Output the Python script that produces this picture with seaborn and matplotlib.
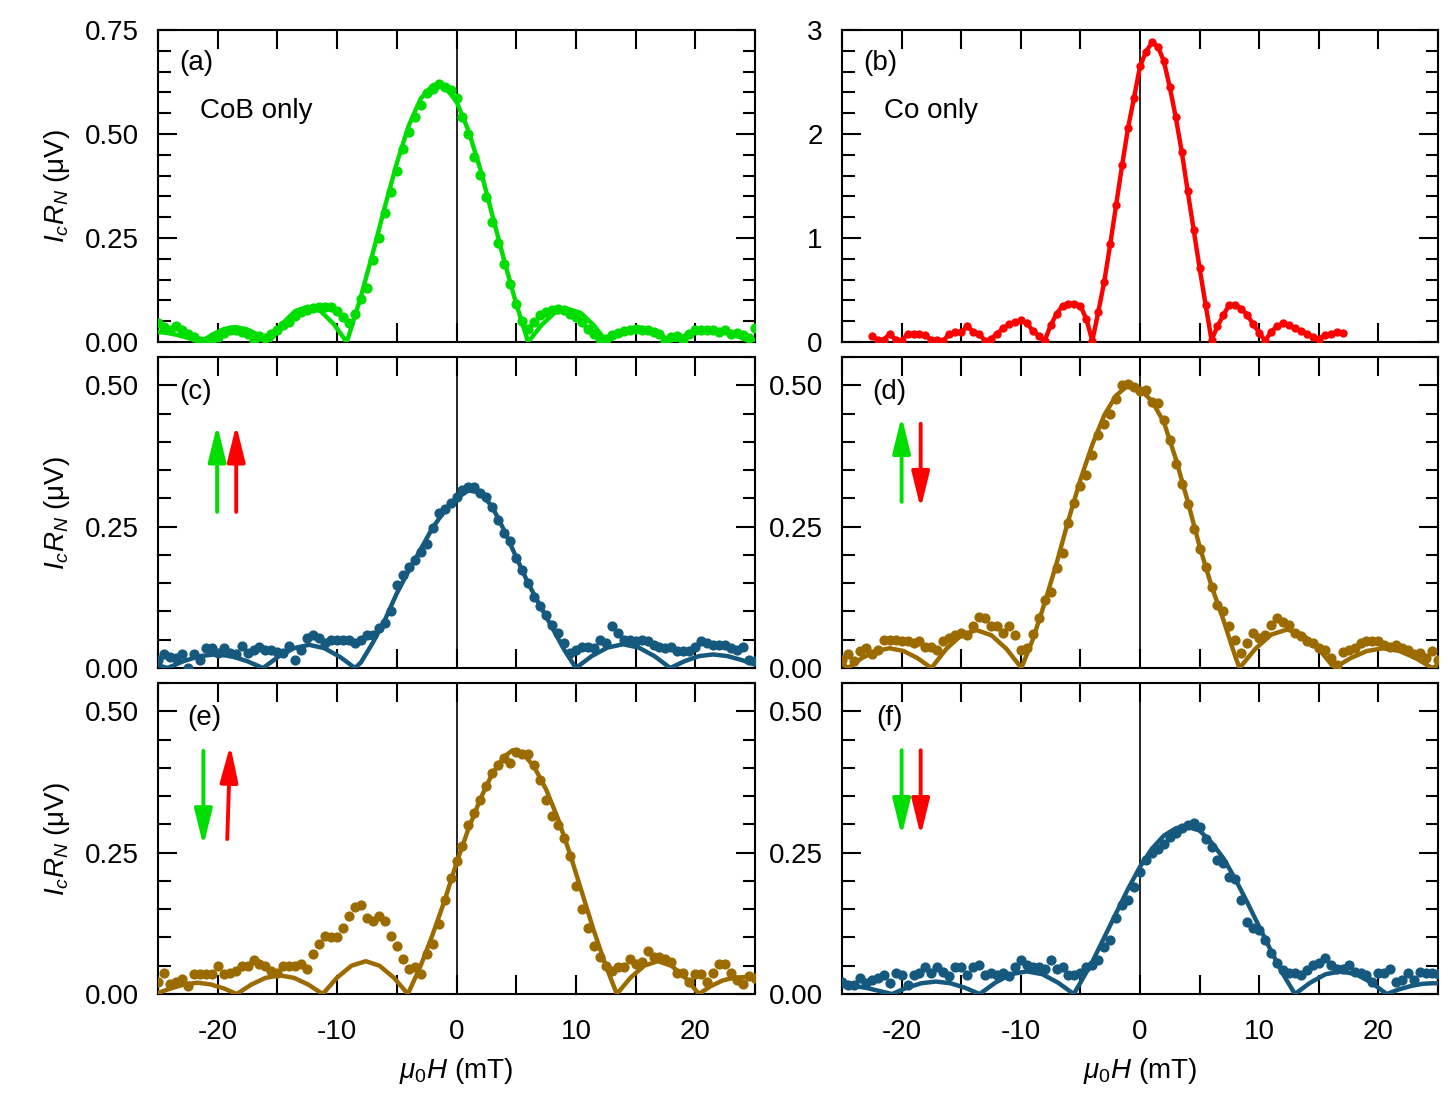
import numpy as np
import matplotlib.pyplot as plt
import seaborn as sns
from matplotlib.ticker import MultipleLocator, FuncFormatter

sns.set_theme(style='ticks')
plt.rcParams['font.family'] = ['Liberation Sans', 'DejaVu Sans']
plt.rcParams['mathtext.fontset'] = 'custom'
plt.rcParams['mathtext.rm'] = 'Liberation Sans'
plt.rcParams['mathtext.it'] = 'Liberation Sans:italic'
plt.rcParams['axes.unicode_minus'] = False
for key in ['text.color', 'axes.labelcolor', 'xtick.color', 'ytick.color', 'axes.edgecolor']:
    plt.rcParams[key] = 'black'

GREEN = '#00dd00'
RED = '#ff0000'
BLUE = '#15597f'
BROWN = '#9c6b00'

# field sweep (mT), 0.5 mT steps
field = np.arange(-25, 25.01, 0.5)
field_b = np.arange(-22.5, 17.01, 0.5)

# (a) CoB only, measured
cob_dots = [0.045, 0.035, 0.030, 0.038, 0.030, 0.020, 0.012, 0.002, 0.003, 0.008,
            0.012, 0.022, 0.030, 0.028, 0.025, 0.020, 0.004, 0.014, 0.010, 0.020,
            0.030, 0.042, 0.048, 0.062, 0.072, 0.078, 0.082, 0.085, 0.085, 0.084,
            0.075, 0.060, 0.045, 0.068, 0.104, 0.130, 0.197, 0.250, 0.309, 0.360,
            0.410, 0.465, 0.505, 0.541, 0.570, 0.598, 0.607, 0.620, 0.612, 0.606,
            0.586, 0.541, 0.501, 0.445, 0.401, 0.349, 0.289, 0.237, 0.188, 0.140,
            0.092, 0.050, 0.032, 0.048, 0.064, 0.072, 0.076, 0.080, 0.076, 0.068,
            0.060, 0.048, 0.032, 0.020, 0.008, 0.008, 0.018, 0.022, 0.026, 0.030,
            0.032, 0.030, 0.028, 0.024, 0.020, 0.002, 0.012, 0.015, 0.004, 0.020,
            0.028, 0.030, 0.028, 0.030, 0.025, 0.030, 0.020, 0.022, 0.018, 0.010,
            0.033]
# (a) fit
cob_fit_x = [-25, -24, -23, -22, -21.4, -20.45, -19.5, -18.55, -17.6, -16.65, -15.7,
             -14.62, -13.53, -12.45, -11.37, -10.28, -9.2, -9, -8, -7, -6, -5, -4, -3,
             -2, -1.6, -1, 0, 1, 2, 3, 4, 5, 6.0, 7.1, 8.2, 9.3, 10.4, 11.5, 12.6,
             13.5, 14.4, 15.3, 16.2, 17.1, 18.0, 19.1, 20.2, 21.3, 22.4, 23.5, 24.6, 25]
cob_fit_y = [0.024, 0.021, 0.014, 0.006, 0.0, 0.018, 0.031, 0.036, 0.031, 0.018, 0.0,
             0.043, 0.074, 0.085, 0.074, 0.043, 0.0, 0.017, 0.11, 0.215, 0.325, 0.43,
             0.52, 0.585, 0.617, 0.62, 0.614, 0.578, 0.508, 0.415, 0.305, 0.195, 0.092,
             0.0, 0.04, 0.07, 0.08, 0.07, 0.04, 0.0, 0.0175, 0.03, 0.035, 0.03, 0.0175,
             0.0, 0.015, 0.026, 0.03, 0.026, 0.015, 0.0, 0.003]

# (b) Co only
co_dots = [0.06, 0.02, 0.02, 0.08, 0.02, 0.01, 0.08, 0.08, 0.08, 0.065,
           0.02, 0.02, 0.01, 0.08, 0.095, 0.095, 0.15, 0.10, 0.08, 0.01,
           0.03, 0.08, 0.13, 0.17, 0.19, 0.21, 0.18, 0.11, 0.06, 0.01,
           0.16, 0.27, 0.35, 0.37, 0.37, 0.35, 0.22, 0.01, 0.29, 0.58,
           0.94, 1.32, 1.70, 2.06, 2.35, 2.65, 2.79, 2.88, 2.84, 2.70,
           2.45, 2.16, 1.83, 1.45, 1.08, 0.71, 0.36, 0.02, 0.15, 0.26,
           0.36, 0.36, 0.32, 0.26, 0.17, 0.09, 0.01, 0.10, 0.15, 0.18,
           0.16, 0.13, 0.11, 0.08, 0.045, 0.03, 0.065, 0.08, 0.095, 0.09]

# (c) parallel up-up
uu_dots = [0.015, 0.024, 0.020, 0.018, 0.024, 0.000, 0.024, 0.015, 0.035, 0.035,
           0.026, 0.035, 0.026, 0.024, 0.039, 0.026, 0.032, 0.038, 0.032, 0.032,
           0.029, 0.026, 0.039, 0.015, 0.032, 0.053, 0.059, 0.053, 0.044, 0.050,
           0.050, 0.050, 0.050, 0.044, 0.050, 0.059, 0.059, 0.070, 0.080, 0.100,
           0.147, 0.165, 0.179, 0.191, 0.206, 0.220, 0.247, 0.274, 0.282, 0.291,
           0.303, 0.315, 0.320, 0.320, 0.309, 0.303, 0.285, 0.262, 0.238, 0.224,
           0.194, 0.174, 0.150, 0.126, 0.109, 0.094, 0.076, 0.062, 0.044, 0.026,
           0.032, 0.038, 0.038, 0.035, 0.050, 0.045, 0.074, 0.062, 0.050, 0.050,
           0.047, 0.050, 0.047, 0.041, 0.038, 0.035, 0.038, 0.030, 0.030, 0.030,
           0.038, 0.047, 0.044, 0.041, 0.041, 0.041, 0.035, 0.032, 0.038, 0.015,
           0.012]
uu_fit_x = [-25, -24.2, -22.87, -21.53, -20.2, -18.87, -17.53, -16.2, -14.92, -13.63,
            -12.35, -11.07, -9.78, -8.5, -8, -7, -6, -5, -4, -3, -2, -1, 0, 1, 2, 3,
            4, 5, 6, 7, 8, 9, 10.0, 11.32, 12.63, 13.95, 15.27, 16.58, 17.9, 19.1,
            20.3, 21.5, 22.7, 23.9, 25]
uu_fit_y = [0.005, 0.0, 0.012, 0.021, 0.024, 0.021, 0.012, 0.0, 0.02, 0.035, 0.041,
            0.035, 0.02, 0.0, 0.01, 0.045, 0.085, 0.132, 0.172, 0.21, 0.248, 0.278,
            0.300, 0.314, 0.310, 0.285, 0.243, 0.196, 0.150, 0.110, 0.072, 0.033, 0.0,
            0.021, 0.036, 0.042, 0.036, 0.021, 0.0, 0.012, 0.021, 0.024, 0.021, 0.014,
            0.006]

# (d) up-down
ud_dots = [0.015, 0.024, 0.012, 0.030, 0.035, 0.024, 0.032, 0.050, 0.050, 0.050,
           0.047, 0.047, 0.044, 0.047, 0.038, 0.038, 0.032, 0.047, 0.053, 0.059,
           0.062, 0.059, 0.074, 0.091, 0.088, 0.074, 0.074, 0.062, 0.074, 0.059,
           0.032, 0.035, 0.060, 0.088, 0.121, 0.135, 0.176, 0.203, 0.257, 0.291,
           0.321, 0.341, 0.376, 0.412, 0.432, 0.450, 0.476, 0.500, 0.503, 0.497,
           0.490, 0.491, 0.470, 0.468, 0.438, 0.403, 0.360, 0.325, 0.290, 0.245,
           0.210, 0.179, 0.144, 0.112, 0.100, 0.075, 0.050, 0.026, 0.044, 0.062,
           0.053, 0.059, 0.076, 0.088, 0.082, 0.076, 0.062, 0.056, 0.047, 0.044,
           0.035, 0.032, 0.018, 0.006, 0.029, 0.032, 0.035, 0.044, 0.047, 0.047,
           0.047, 0.041, 0.038, 0.041, 0.035, 0.032, 0.024, 0.026, 0.018, 0.030,
           0.015]
ud_fit_x = [-25, -24.5, -23.33, -22.17, -21.0, -19.83, -18.67, -17.5, -16.24, -14.98,
            -13.72, -12.47, -11.21, -9.95, -9, -8, -7, -6, -5, -4, -3, -2, -1, 0, 1,
            2, 3, 4, 5, 6, 7, 7.5, 8.0, 8.35, 9.68, 11.0, 12.33, 13.65, 14.98, 16.3,
            17.67, 19.03, 20.4, 21.77, 23.13, 24.5, 25]
ud_fit_y = [0.008, 0.0, 0.0175, 0.03, 0.035, 0.03, 0.0175, 0.0, 0.034, 0.058, 0.067,
            0.058, 0.034, 0.0, 0.05, 0.115, 0.185, 0.262, 0.333, 0.395, 0.447, 0.482,
            0.50, 0.493, 0.472, 0.435, 0.37, 0.295, 0.215, 0.145, 0.085, 0.052, 0.02,
            0.0, 0.034, 0.059, 0.068, 0.059, 0.034, 0.0, 0.0175, 0.03, 0.035, 0.03,
            0.0175, 0.0, 0.005]

# (e) down-up
du_dots = [0.022, 0.037, 0.018, 0.021, 0.026, 0.015, 0.035, 0.035, 0.035, 0.035,
           0.050, 0.035, 0.038, 0.041, 0.050, 0.050, 0.060, 0.053, 0.050, 0.041,
           0.038, 0.050, 0.050, 0.050, 0.053, 0.044, 0.070, 0.088, 0.103, 0.100,
           0.100, 0.117, 0.138, 0.153, 0.157, 0.135, 0.129, 0.138, 0.129, 0.103,
           0.085, 0.062, 0.044, 0.047, 0.035, 0.070, 0.088, 0.123, 0.167, 0.205,
           0.235, 0.261, 0.299, 0.320, 0.343, 0.367, 0.390, 0.405, 0.417, 0.408,
           0.428, 0.425, 0.425, 0.405, 0.378, 0.343, 0.314, 0.299, 0.276, 0.244,
           0.191, 0.150, 0.117, 0.085, 0.065, 0.050, 0.041, 0.047, 0.047, 0.062,
           0.053, 0.056, 0.076, 0.065, 0.065, 0.062, 0.056, 0.038, 0.038, 0.021,
           0.035, 0.035, 0.021, 0.038, 0.053, 0.053, 0.038, 0.024, 0.018, 0.032,
           0.028]
du_fit_x = [-25, -23.9, -22.8, -21.7, -20.6, -19.5, -18.4, -17.2, -16.0, -14.8, -13.6,
            -12.4, -11.2, -10.0, -8.8, -7.6, -6.45, -5.26, -4.07, -3, -2, -1, 0, 1, 2,
            3, 4, 4.7, 5.5, 6.5, 7.5, 8.5, 9.5, 10.5, 11.5, 12.5, 13.43, 14.58, 15.72,
            16.87, 18.0, 19.15, 20.3, 21.3, 22.3, 23.3, 24.3, 25]
du_fit_y = [0.002, 0.01, 0.017, 0.02, 0.017, 0.01, 0.0, 0.0165, 0.0285, 0.033, 0.0285,
            0.0165, 0.0, 0.029, 0.05, 0.058, 0.05, 0.029, 0.0, 0.05, 0.105, 0.165,
            0.232, 0.292, 0.345, 0.39, 0.42, 0.431, 0.427, 0.402, 0.362, 0.31, 0.248,
            0.18, 0.112, 0.05, 0.0, 0.029, 0.05, 0.058, 0.05, 0.029, 0.0, 0.014, 0.024,
            0.029, 0.03, 0.028]

# (f) down-down
dd_dots = [0.022, 0.016, 0.016, 0.028, 0.019, 0.025, 0.028, 0.034, 0.019, 0.037,
           0.034, 0.016, 0.034, 0.037, 0.048, 0.037, 0.048, 0.039, 0.031, 0.048,
           0.048, 0.034, 0.048, 0.051, 0.034, 0.037, 0.034, 0.037, 0.031, 0.048,
           0.060, 0.051, 0.048, 0.048, 0.045, 0.060, 0.045, 0.048, 0.034, 0.034,
           0.037, 0.048, 0.051, 0.060, 0.084, 0.095, 0.134, 0.157, 0.166, 0.190,
           0.216, 0.237, 0.249, 0.257, 0.266, 0.278, 0.284, 0.293, 0.299, 0.302,
           0.296, 0.275, 0.260, 0.237, 0.231, 0.207, 0.204, 0.166, 0.128, 0.116,
           0.113, 0.095, 0.072, 0.054, 0.042, 0.037, 0.037, 0.034, 0.042, 0.051,
           0.054, 0.063, 0.051, 0.045, 0.045, 0.051, 0.039, 0.037, 0.034, 0.022,
           0.037, 0.037, 0.045, 0.022, 0.025, 0.037, 0.025, 0.039, 0.037, 0.037,
           0.036]
dd_fit_x = [-25, -24, -23, -22, -20.8, -19.58, -18.35, -17.13, -15.9, -14.68, -13.45,
            -12.14, -10.82, -9.5, -8.19, -6.87, -5.56, -5, -4, -3, -2, -1, 0, 1, 2, 3,
            3.8, 5, 6, 7, 8, 9, 10, 11, 12, 13.0, 14.28, 15.57, 16.85, 18.13, 19.42,
            20.7, 21.7, 22.7, 23.7, 24.5, 25]
dd_fit_y = [0.014, 0.014, 0.011, 0.006, 0.0, 0.011, 0.019, 0.022, 0.019, 0.011, 0.0,
            0.02, 0.035, 0.04, 0.035, 0.02, 0.0, 0.02, 0.057, 0.10, 0.143, 0.186, 0.225,
            0.257, 0.28, 0.293, 0.297, 0.289, 0.268, 0.24, 0.203, 0.162, 0.119, 0.076,
            0.035, 0.0, 0.02, 0.035, 0.04, 0.035, 0.02, 0.0, 0.008, 0.014, 0.018, 0.019,
            0.019]

FS = 20
W, H = 1452, 1095
fig = plt.figure(figsize=(W / 100, H / 100), dpi=100)


def make_ax(left_px, top_px, right_px, bottom_px):
    return fig.add_axes([left_px / W, 1 - bottom_px / H,
                         (right_px - left_px) / W, (bottom_px - top_px) / H])


def style_ax(ax, ymax, ymajor, yminor, yfmt, bottom_labels):
    ax.set_xlim(-25, 25)
    ax.set_ylim(0, ymax)
    ax.axvline(0, color='black', lw=1.2, zorder=1)
    ax.xaxis.set_major_locator(MultipleLocator(5))
    ax.xaxis.set_major_formatter(FuncFormatter(
        lambda v, p: f'{v:.0f}' if abs(v % 10) < 1e-6 else ''))
    ax.yaxis.set_major_locator(MultipleLocator(ymajor))
    ax.yaxis.set_minor_locator(MultipleLocator(yminor))
    ax.yaxis.set_major_formatter(FuncFormatter(lambda v, p: yfmt.format(v)))
    ax.tick_params(which='both', direction='in', top=True, right=True,
                   width=1.5, color='black', labelcolor='black', labelsize=FS,
                   pad=14, labelbottom=bottom_labels)
    ax.tick_params(axis='x', pad=18)
    ax.tick_params(which='major', length=14)
    ax.tick_params(which='minor', length=9)
    for sp in ax.spines.values():
        sp.set_linewidth(1.5)
        sp.set_color('black')
    ax.set_xlabel('')
    ax.set_ylabel('')


def fit_panel(ax, dots, fx, fy, color):
    sns.scatterplot(x=field, y=dots, color=color, s=54, linewidth=0, ax=ax, zorder=3)
    sns.lineplot(x=fx, y=fy, color=color, lw=3.2, estimator=None, errorbar=None,
                 sort=False, ax=ax, zorder=4)


def arrow(ax, x0, y0, x1, y1, color):
    ax.annotate('', xy=(x1, y1), xytext=(x0, y0),
                arrowprops=dict(arrowstyle='-|>,head_length=1.1,head_width=0.27',
                                mutation_scale=20, color=color, lw=2.8,
                                shrinkA=0, shrinkB=0))


def tag(ax, x, y, s):
    ax.text(x, y, s, transform=ax.transAxes, fontsize=FS, ha='left', va='center',
            color='black')


ylab = r'$I_cR_N$ (μV)'
xlab = r'$\mu_0H$ (mT)'

# (a)
ax_a = make_ax(158, 30, 755, 342)
fit_panel(ax_a, cob_dots, cob_fit_x, cob_fit_y, GREEN)
style_ax(ax_a, 0.75, 0.25, 0.05, '{:.2f}', False)
ax_a.set_ylabel(ylab, fontsize=FS, labelpad=9)
tag(ax_a, 0.035, 0.894, '(a)')
tag(ax_a, 0.07, 0.74, 'CoB only')

# (b)
ax_b = make_ax(842, 30, 1438, 342)
sns.lineplot(x=field_b, y=co_dots, color=RED, lw=3.2, marker='o', markersize=6,
             markeredgewidth=0, estimator=None, errorbar=None, ax=ax_b, zorder=4)
style_ax(ax_b, 3, 1, 0.2, '{:.0f}', False)
tag(ax_b, 0.035, 0.894, '(b)')
tag(ax_b, 0.07, 0.74, 'Co only')

# (c)
ax_c = make_ax(158, 357, 755, 668)
fit_panel(ax_c, uu_dots, uu_fit_x, uu_fit_y, BLUE)
style_ax(ax_c, 0.55, 0.25, 0.05, '{:.2f}', False)
ax_c.set_ylabel(ylab, fontsize=FS, labelpad=9)
tag(ax_c, 0.035, 0.887, '(c)')
arrow(ax_c, -20.05, 0.276, -20.05, 0.43, GREEN)
arrow(ax_c, -18.45, 0.276, -18.45, 0.43, RED)

# (d)
ax_d = make_ax(842, 357, 1438, 668)
fit_panel(ax_d, ud_dots, ud_fit_x, ud_fit_y, BROWN)
style_ax(ax_d, 0.55, 0.25, 0.05, '{:.2f}', False)
tag(ax_d, 0.05, 0.887, '(d)')
arrow(ax_d, -20.0, 0.294, -20.0, 0.445, GREEN)
arrow(ax_d, -18.4, 0.432, -18.4, 0.282, RED)

# (e)
ax_e = make_ax(158, 683, 755, 994)
fit_panel(ax_e, du_dots, du_fit_x, du_fit_y, BROWN)
style_ax(ax_e, 0.55, 0.25, 0.05, '{:.2f}', True)
ax_e.set_ylabel(ylab, fontsize=FS, labelpad=9)
ax_e.set_xlabel(xlab, fontsize=FS, labelpad=8)
tag(ax_e, 0.049, 0.887, '(e)')
arrow(ax_e, -21.2, 0.43, -21.2, 0.262, GREEN)
arrow(ax_e, -19.2, 0.274, -18.95, 0.44, RED)

# (f)
ax_f = make_ax(842, 683, 1438, 994)
fit_panel(ax_f, dd_dots, dd_fit_x, dd_fit_y, BLUE)
style_ax(ax_f, 0.55, 0.25, 0.05, '{:.2f}', True)
ax_f.set_xlabel(xlab, fontsize=FS, labelpad=8)
tag(ax_f, 0.057, 0.887, '(f)')
arrow(ax_f, -20.0, 0.431, -20.0, 0.28, GREEN)
arrow(ax_f, -18.4, 0.431, -18.4, 0.28, RED)

fig.savefig('out.png', dpi=100)
